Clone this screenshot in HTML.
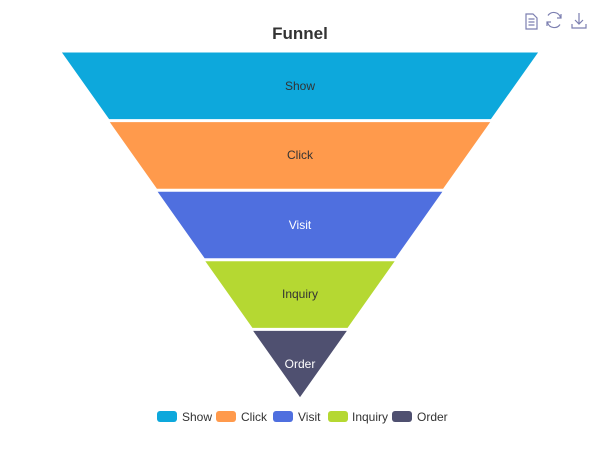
<!DOCTYPE html>
<html><head><meta charset="utf-8"><style>
html,body{margin:0;padding:0;background:#fff;}
svg{display:block;font-family:"Liberation Sans",sans-serif;}
</style></head><body>
<svg width="600" height="450" viewBox="0 0 600 450">
<text x="300" y="39" text-anchor="middle" font-size="17" font-weight="600" fill="#333">Funnel</text>
<g fill="none" stroke="#7c7fb0" stroke-width="1.2">
<path d="M526 14h7l4 4v11h-11z M528.5 19h6 M528.5 22h6 M528.5 25h6"/>
<path d="M560.5 17.5A7 7 0 0 0 548 15.5 M547.5 22.5A7 7 0 0 0 560 24.5"/>
<path d="M561 14v4h-4 M547 26v-4h4"/>
<path d="M579 13v11 M575 20l4 4 4-4 M572 24v4h14v-4"/>
</g>
<g stroke="#fff" stroke-width="1">
<polygon points="61,52 539,52 491.2,119.6 108.8,119.6" fill="#0da8dc"/>
<polygon points="108.8,121.6 491.2,121.6 443.4,189.2 156.6,189.2" fill="#ff9a4c"/>
<polygon points="156.6,191.2 443.4,191.2 395.6,258.8 204.4,258.8" fill="#4f6fdf"/>
<polygon points="204.4,260.8 395.6,260.8 347.8,328.4 252.2,328.4" fill="#b5d832"/>
<polygon points="252.2,330.4 347.8,330.4 300,398" fill="#4f5070"/>
</g>
<g font-size="12" text-anchor="middle">
<text x="300" y="90" fill="#333">Show</text>
<text x="300" y="159" fill="#333">Click</text>
<text x="300" y="229" fill="#fff">Visit</text>
<text x="300" y="298" fill="#333">Inquiry</text>
<text x="300" y="368" fill="#fff">Order</text>
</g>
<g font-size="12" fill="#333">
<rect x="157" y="411" width="20" height="11" rx="3" fill="#0da8dc"/><text x="182" y="421">Show</text>
<rect x="216" y="411" width="20" height="11" rx="3" fill="#ff9a4c"/><text x="241" y="421">Click</text>
<rect x="273" y="411" width="20" height="11" rx="3" fill="#4f6fdf"/><text x="298" y="421">Visit</text>
<rect x="328" y="411" width="20" height="11" rx="3" fill="#b5d832"/><text x="352" y="421">Inquiry</text>
<rect x="392" y="411" width="20" height="11" rx="3" fill="#4f5070"/><text x="417" y="421">Order</text>
</g>
</svg>
</body></html>
